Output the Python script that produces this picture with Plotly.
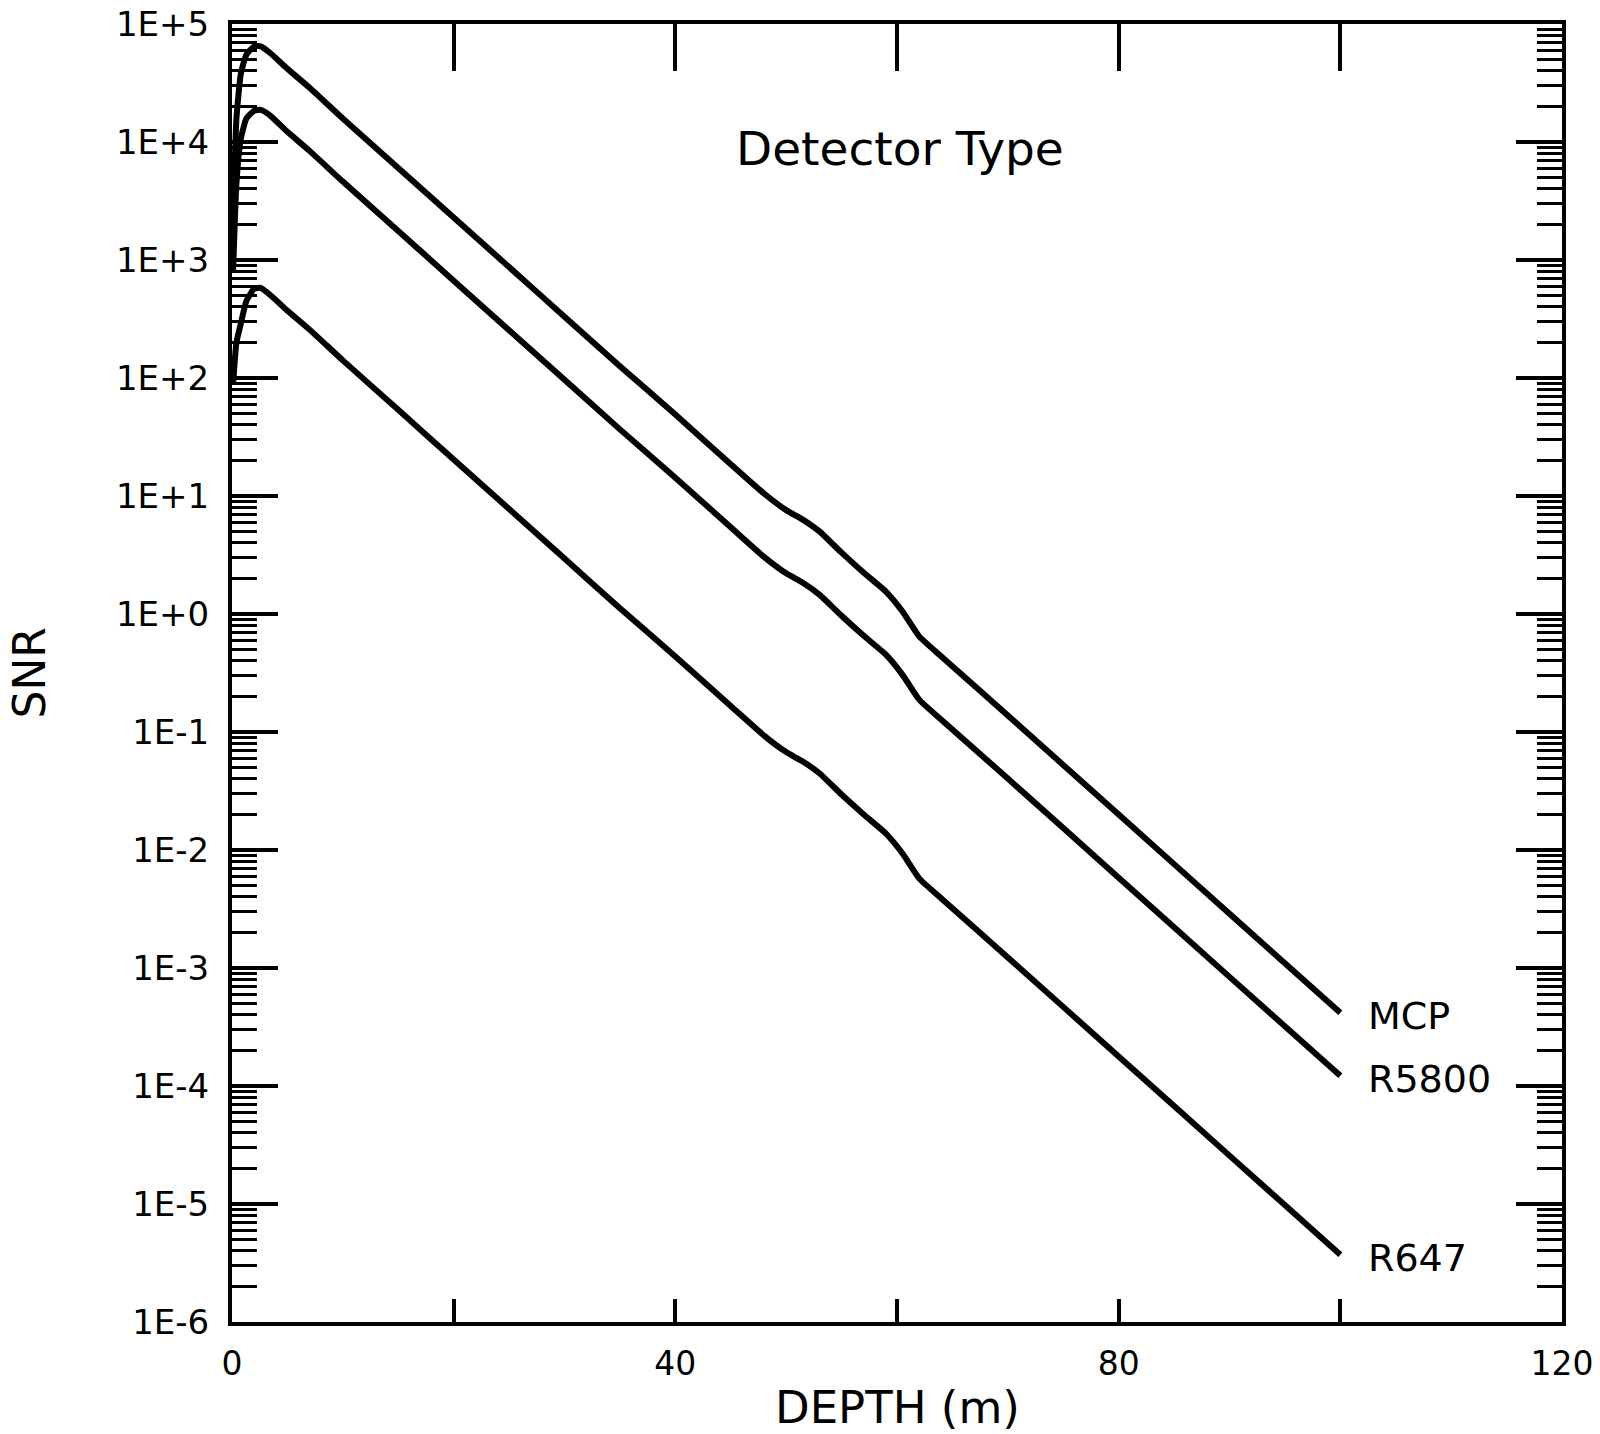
import plotly.graph_objects as go
import math

# ---- data ----
depth = [0.1, 0.4, 0.8, 1.3, 2.0, 2.6, 3.5, 5, 7, 10, 15, 20, 25, 30, 35, 40, 45,
         48, 50, 51.5, 53, 55, 57, 59, 60.5, 62, 64, 70, 80, 90, 100]

snr_mcp = [2000, 15800, 38000, 55000, 64600, 64600, 56200, 41700, 28800, 15800,
           6030, 2290, 871, 331, 126, 49.0, 18.6, 10.5, 7.59, 6.31, 5.01, 3.31,
           2.24, 1.55, 1.05, 0.646, 0.437, 0.138, 0.0200, 0.00288, 4.17e-4]

snr_r5800 = [794, 4470, 10700, 15800, 18400, 18700, 16600, 12200, 8410, 4620,
             1760, 668, 254, 96.6, 36.7, 14.3, 5.43, 3.05, 2.21, 1.84, 1.46, 0.966,
             0.653, 0.452, 0.305, 0.188, 0.127, 0.0403, 0.00582, 8.41e-4, 1.22e-4]

snr_r647 = [89, 200, 290, 450, 570, 580, 500, 372, 257, 141, 53.7, 20.4, 7.76,
            2.95, 1.12, 0.437, 0.166, 0.0933, 0.0676, 0.0562, 0.0447, 0.0295,
            0.0200, 0.0138, 0.00933, 0.00575, 0.00389, 0.00123, 1.78e-4, 2.57e-5,
            3.72e-6]

series_names = ["MCP", "R5800", "R647"]
series_values = [snr_mcp, snr_r5800, snr_r647]

y_tickvals = [1e-6, 1e-5, 1e-4, 1e-3, 1e-2, 1e-1, 1e0, 1e1, 1e2, 1e3, 1e4, 1e5]
y_ticktext = ["1E-6", "1E-5", "1E-4", "1E-3", "1E-2", "1E-1", "1E+0", "1E+1",
              "1E+2", "1E+3", "1E+4", "1E+5"]
x_tickvals = [0, 20, 40, 60, 80, 100, 120]
x_ticktext = ["0", "", "40", "", "80", "", "120"]

FONT = "DejaVu Sans"

minor_vals = [m * 10 ** e for e in range(-6, 5) for m in range(2, 10)]

fig = go.Figure()
for name, vals in zip(series_names, series_values):
    fig.add_trace(go.Scatter(x=depth, y=vals, mode="lines", name=name,
                             line=dict(color="black", width=6, shape="spline",
                                       smoothing=0.5),
                             showlegend=False))
    fig.add_annotation(x=depth[-1], y=math.log10(vals[-1]), text=name,
                       xref="x", yref="y", xanchor="left", yanchor="middle",
                       xshift=26, yshift=-3, showarrow=False,
                       font=dict(family=FONT, size=38, color="black"))

# invisible trace for top x-axis
fig.add_trace(go.Scatter(x=[0, 120], y=[1e-6, 1e-6], xaxis="x2", mode="lines",
                         line=dict(width=0), hoverinfo="skip", showlegend=False))

fig.update_layout(
    width=1600, height=1434,
    margin=dict(l=232, r=38, t=24, b=112, autoexpand=False),
    paper_bgcolor="white", plot_bgcolor="white",
    font=dict(family=FONT, size=34, color="black"),
    xaxis=dict(range=[0, 120], tickmode="array", tickvals=x_tickvals,
               ticktext=x_ticktext, ticks="inside", ticklen=23, tickwidth=4,
               tickcolor="black", showline=True, linewidth=4, linecolor="black",
               showgrid=False, zeroline=False, ticklabelstandoff=9,
               automargin=False, tickfont=dict(family=FONT, size=33)),
    xaxis2=dict(range=[0, 120], overlaying="x", side="top", matches="x",
                tickmode="array", tickvals=x_tickvals, ticks="inside",
                ticklen=47, tickwidth=4, tickcolor="black", showline=True,
                linewidth=4, linecolor="black", showgrid=False,
                showticklabels=False, zeroline=False, automargin=False),
    yaxis=dict(type="log", range=[-6, 5], tickmode="array", tickvals=y_tickvals,
               ticktext=y_ticktext, ticks="inside", ticklen=46, tickwidth=4,
               tickcolor="black", showline=True, linewidth=4, linecolor="black",
               mirror="ticks", showgrid=False, zeroline=False, automargin=False,
               ticklabelstandoff=12, tickfont=dict(family=FONT, size=34),
               minor=dict(tickmode="array", tickvals=minor_vals, ticks="inside",
                          ticklen=25, tickwidth=3, tickcolor="black",
                          showgrid=False)),
)

fig.add_annotation(text="DEPTH (m)", xref="paper", yref="paper", x=0.5, y=-0.066,
                   xanchor="center", yanchor="middle", showarrow=False,
                   font=dict(family=FONT, size=45, color="black"))
fig.add_annotation(text="SNR", xref="paper", yref="paper", x=-0.153, y=0.5,
                   xanchor="center", yanchor="middle", showarrow=False,
                   textangle=-90, font=dict(family=FONT, size=44, color="black"))
fig.add_annotation(text="Detector Type", xref="paper", yref="paper", x=0.502,
                   y=0.9038, xanchor="center", yanchor="middle", showarrow=False,
                   font=dict(family=FONT, size=47, color="black"))

fig.write_html("out.html")
